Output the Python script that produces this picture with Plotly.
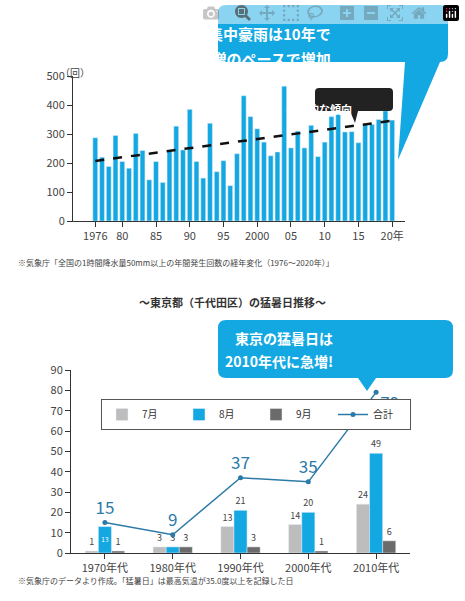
import plotly.graph_objects as go

# top chart data: hourly rain >= 50mm events per year
years = list(range(1976, 2021))
counts = [287, 220, 188, 295, 205, 182, 302, 243, 142, 205, 133, 240, 327, 245, 385,
          205, 148, 337, 170, 208, 122, 232, 432, 360, 318, 272, 225, 238, 465, 252,
          310, 252, 330, 222, 272, 360, 368, 307, 308, 270, 333, 333, 350, 380, 348]
trend_x = [1976, 2020]
trend_y = [207, 346]
top_ticks = [1976, 1980, 1985, 1990, 1995, 2000, 2005, 2010, 2015, 2020]
top_ticklabels = ["1976", "80", "85", "90", "95", "2000", "05", "10", "15", "20年"]

# bottom chart data: extremely hot days in Tokyo
decades = ["1970年代", "1980年代", "1990年代", "2000年代", "2010年代"]
july = [1, 3, 13, 14, 24]
august = [13, 3, 21, 20, 49]
september = [1, 3, 3, 1, 6]
total = [15, 9, 37, 35, 79]

W, H = 465, 601
FONT = "Noto Sans CJK JP"
BLUE = "#14a8e3"
LINE = "#2c7aa8"


def px(x):
    return x / W


def py(y):
    return 1 - y / H


fig = go.Figure()

fig.add_trace(go.Bar(x=years, y=counts, marker_color=BLUE, width=0.72,
                     xaxis="x", yaxis="y", showlegend=False))
fig.add_trace(go.Scatter(x=trend_x, y=trend_y, mode="lines",
                         line=dict(color="#111", width=2.5, dash="dash"),
                         xaxis="x", yaxis="y", showlegend=False))

fig.add_trace(go.Bar(x=decades, y=july, name="7月", marker_color="#bdbdbd",
                     text=july, textposition="outside", textfont=dict(size=9, color="#444"),
                     xaxis="x2", yaxis="y2", cliponaxis=False))
fig.add_trace(go.Bar(x=decades, y=august, name="8月", marker_color=BLUE,
                     text=august, textposition=["inside", "outside", "outside", "outside", "outside"],
                     insidetextanchor="middle",
                     textfont=dict(size=9, color=["white", "#444", "#444", "#444", "#444"]),
                     xaxis="x2", yaxis="y2", cliponaxis=False))
fig.add_trace(go.Bar(x=decades, y=september, name="9月", marker_color="#6b6b6b",
                     text=september, textposition="outside", textfont=dict(size=9, color="#444"),
                     xaxis="x2", yaxis="y2", cliponaxis=False))
fig.add_trace(go.Scatter(x=decades, y=total, name="合計", mode="lines+markers+text",
                         line=dict(color=LINE, width=1.5), marker=dict(size=5, color=LINE),
                         text=total, textposition=["top center", "top center", "top center", "top center", "bottom right"],
                         textfont=dict(size=17, color=LINE),
                         xaxis="x2", yaxis="y2", cliponaxis=False))

axis_common = dict(showgrid=False, zeroline=False, showline=True, linecolor="#333",
                   ticks="outside", ticklen=5, tickcolor="#333",
                   tickfont=dict(size=11, color="#444", family=FONT))

fig.update_layout(
    width=W, height=H, margin=dict(l=0, r=0, t=0, b=0, autoexpand=False),
    paper_bgcolor="white", plot_bgcolor="white",
    font=dict(family=FONT),
    barmode="group", bargap=0.42, bargroupgap=0,
    xaxis=dict(domain=[px(73), px(405)], range=[1972.7, 2021.9],
               tickvals=top_ticks, ticktext=top_ticklabels, anchor="y", **axis_common),
    yaxis=dict(domain=[py(221), py(76)], range=[0, 500], dtick=100, anchor="x", **axis_common),
    xaxis2=dict(domain=[px(71), px(410)], range=[-0.5, 4.5], anchor="y2", **axis_common),
    yaxis2=dict(domain=[py(553), py(370)], range=[0, 90], dtick=10, anchor="x2", **axis_common),
    legend=dict(orientation="h", x=px(101), y=py(399), xanchor="left", yanchor="top",
                bgcolor="white", bordercolor="#555", borderwidth=1,
                font=dict(size=10, color="#333", family=FONT),
                entrywidth=32, entrywidthmode="pixels", itemwidth=30, tracegroupgap=0),
)


# callout shapes (rounded boxes with tails), in paper coords
def callout(x0, y0, x1, y1, tail, r=8):
    (ta, tb, tip) = tail
    pts = [f"M{px(x0 + r)},{py(y0)}", f"L{px(x1 - r)},{py(y0)}",
           f"Q{px(x1)},{py(y0)} {px(x1)},{py(y0 + r)}",
           f"L{px(x1)},{py(y1 - r)}", f"Q{px(x1)},{py(y1)} {px(x1 - r)},{py(y1)}",
           f"L{px(tb)},{py(y1)}", f"L{px(tip[0])},{py(tip[1])}", f"L{px(ta)},{py(y1)}",
           f"L{px(x0 + r)},{py(y1)}", f"Q{px(x0)},{py(y1)} {px(x0)},{py(y1 - r)}",
           f"L{px(x0)},{py(y0 + r)}", f"Q{px(x0)},{py(y0)} {px(x0 + r)},{py(y0)}", "Z"]
    return " ".join(pts)


fig.add_shape(type="path", xref="paper", yref="paper", line_width=0, fillcolor=BLUE,
              path=callout(218, 5, 448, 62, (405, 440, (398, 160))))
fig.add_shape(type="path", xref="paper", yref="paper", line_width=0, fillcolor=BLUE,
              path=callout(218, 320, 453, 378, (358, 376, (367, 391))))
fig.add_shape(type="path", xref="paper", yref="paper", line_width=0, fillcolor="#222",
              path=callout(315, 88, 393, 111, (350, 358, (355, 123)), r=4))

fig.add_annotation(x=px(333), y=py(21), xref="paper", yref="paper", showarrow=False,
                   text="<b>集中豪雨は10年で</b>", font=dict(size=15, color="white", family=FONT))
fig.add_annotation(x=px(333), y=py(46), xref="paper", yref="paper", showarrow=False,
                   text="<b>29.2回増のペースで増加</b>", font=dict(size=15, color="white", family=FONT))
fig.add_annotation(x=px(354), y=py(99), xref="paper", yref="paper", showarrow=False,
                   text="<b>長期的な傾向</b>", font=dict(size=11, color="white", family=FONT))
fig.add_annotation(x=px(335), y=py(338), xref="paper", yref="paper", showarrow=False,
                   text="<b>東京の猛暑日は</b>", font=dict(size=14, color="white", family=FONT))
fig.add_annotation(x=px(335), y=py(361), xref="paper", yref="paper", showarrow=False,
                   text="<b>2010年代に急増!</b>", font=dict(size=14, color="white", family=FONT))

fig.add_annotation(x=px(58), y=py(63), xref="paper", yref="paper", showarrow=False,
                   text="（回）", font=dict(size=10, color="#444", family=FONT))
fig.add_annotation(x=px(16), y=py(262), xref="paper", yref="paper", showarrow=False, xanchor="left",
                   text="※気象庁「全国の1時間降水量50mm以上の年間発生回数の経年変化（1976～2020年）」",
                   font=dict(size=8, color="#444", family=FONT))
fig.add_annotation(x=px(232), y=py(302), xref="paper", yref="paper", showarrow=False,
                   text="<b>～東京都（千代田区）の猛暑日推移～</b>",
                   font=dict(size=11, color="#333", family=FONT))
fig.add_annotation(x=px(16), y=py(588), xref="paper", yref="paper", showarrow=False, xanchor="left",
                   text="※気象庁のデータより作成。「猛暑日」は最高気温が35.0度以上を記録した日",
                   font=dict(size=8, color="#444", family=FONT))

fig.write_html("out.html",
               post_script="document.body.style.margin='0';document.body.style.overflow='hidden';")
